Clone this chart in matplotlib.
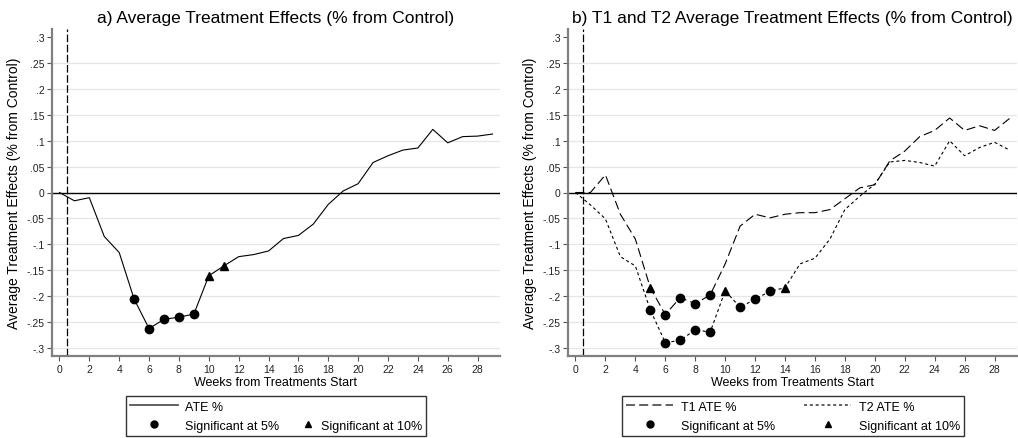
import matplotlib
matplotlib.use("Agg")
import matplotlib.pyplot as plt
from matplotlib.lines import Line2D
from matplotlib.legend_handler import HandlerLine2D
import numpy as np

plt.rcParams['font.family'] = ['Liberation Sans', 'DejaVu Sans']
plt.rcParams['lines.scale_dashes'] = False

# data
weeks = list(range(0, 30))
ate = [0.0, -0.016, -0.010, -0.085, -0.116, -0.206, -0.263, -0.245, -0.241, -0.235,
       -0.161, -0.142, -0.124, -0.120, -0.113, -0.089, -0.083, -0.061, -0.023, 0.003,
       0.017, 0.058, 0.071, 0.082, 0.086, 0.122, 0.096, 0.108, 0.109, 0.113]
ate_sig5 = [5, 6, 7, 8, 9]
ate_sig10 = [10, 11]

t1_ate = [0.0, 0.0, 0.034, -0.042, -0.090, -0.184, -0.236, -0.203, -0.215, -0.198,
          -0.138, -0.065, -0.042, -0.049, -0.042, -0.039, -0.039, -0.033, -0.012, 0.009,
          0.015, 0.061, 0.080, 0.108, 0.120, 0.144, 0.120, 0.129, 0.120, 0.143]
t2_ate = [0.0, -0.024, -0.051, -0.124, -0.142, -0.227, -0.290, -0.286, -0.265, -0.270,
          -0.190, -0.222, -0.206, -0.191, -0.184, -0.138, -0.127, -0.090, -0.033, -0.007,
          0.016, 0.059, 0.062, 0.058, 0.051, 0.100, 0.071, 0.087, 0.097, 0.082]
t1_sig5 = [6, 7, 8, 9]
t1_sig10 = [5]
t2_sig5 = [5, 6, 7, 8, 9, 11, 12, 13]
t2_sig10 = [10, 14]

yticks = [0.3, 0.25, 0.2, 0.15, 0.1, 0.05, 0.0, -0.05, -0.1, -0.15, -0.2, -0.25, -0.3]
xticks = list(range(0, 29, 2))

LONG = (0, (6.5, 3.0))
SHORT = (0, (2.2, 2.0))
VDASH = (0, (5.5, 1.8))
MS_C = 6
MS_T = 5.5


def ytxt(v):
    if v == 0:
        return "0"
    s = ("%.2f" % v).rstrip("0")
    return s.replace("0.", ".")


class MarkerAtRight(HandlerLine2D):
    # marker-only key sits at the right end of the key box (narrow key column)
    def get_xdata(self, legend, xdescent, ydescent, width, height, fontsize):
        xm = -xdescent + width - 3.5
        return [xm - 0.1, xm + 0.1], [xm]


def style_axes(ax):
    ax.set_xlim(-0.5, 29.5)
    ax.set_ylim(-0.316, 0.316)
    ax.set_yticks(yticks)
    ax.set_yticklabels([ytxt(v) for v in yticks])
    ax.set_xticks(xticks)
    for v in yticks:
        if v not in (0.0, 0.3):
            ax.axhline(v, color='#e6e6e6', lw=0.9, zorder=0)
    ax.axhline(0, color='black', lw=1.0, zorder=1)
    ax.axvline(0.5, color='black', lw=0.9, linestyle=VDASH, zorder=1)
    for s in ['top', 'right']:
        ax.spines[s].set_visible(False)
    for s in ['left', 'bottom']:
        ax.spines[s].set_color('#808080')
        ax.spines[s].set_linewidth(1.6)
    ax.tick_params(axis='both', labelsize=7.5, length=3.5, width=0.8,
                   color='#555555', labelcolor='#222222', pad=2)
    ax.set_xlabel("Weeks from Treatments Start", fontsize=9, labelpad=1.5)
    ax.set_ylabel("Average Treatment Effects (% from Control)", fontsize=10, labelpad=4)


fig = plt.figure(figsize=(10.18, 4.39), dpi=100)
ax1 = fig.add_axes([52 / 1018, 82 / 439, 448 / 1018, 327 / 439])
ax2 = fig.add_axes([568 / 1018, 82 / 439, 449 / 1018, 327 / 439])

# panel a
style_axes(ax1)
ax1.plot(weeks, ate, color='black', lw=0.8, zorder=3)
ax1.plot(ate_sig5, [ate[w] for w in ate_sig5], 'o', color='black', ms=MS_C, zorder=4)
ax1.plot(ate_sig10, [ate[w] for w in ate_sig10], '^', color='black', ms=MS_T, zorder=4)
ax1.set_title("a) Average Treatment Effects (% from Control)", fontsize=12.5, pad=5)

# panel b
style_axes(ax2)
ax2.plot(weeks, t1_ate, color='black', lw=0.8, linestyle=LONG, zorder=3)
ax2.plot(weeks, t2_ate, color='black', lw=0.8, linestyle=SHORT, zorder=3)
ax2.plot(t1_sig5, [t1_ate[w] for w in t1_sig5], 'o', color='black', ms=MS_C, zorder=4)
ax2.plot(t1_sig10, [t1_ate[w] for w in t1_sig10], '^', color='black', ms=MS_T, zorder=4)
ax2.plot(t2_sig5, [t2_ate[w] for w in t2_sig5], 'o', color='black', ms=MS_C, zorder=4)
ax2.plot(t2_sig10, [t2_ate[w] for w in t2_sig10], '^', color='black', ms=MS_T, zorder=4)
ax2.set_title("b) T1 and T2 Average Treatment Effects (% from Control)", fontsize=12.5, pad=5)

# legends
circ = Line2D([], [], marker='o', color='black', ls='none', ms=5)
tri = Line2D([], [], marker='^', color='black', ls='none', ms=4.5)
tri_r = Line2D([], [], marker='^', color='black', ls='none', ms=4.5)
blank = Line2D([], [], ls='none')
solid = Line2D([], [], color='#555555', lw=1.3)
long_h = Line2D([], [], color='#555555', lw=1.3, linestyle=LONG)
short_h = Line2D([], [], color='#555555', lw=1.3, linestyle=SHORT)

leg_kw = dict(loc='lower center', fontsize=9, frameon=True, fancybox=False,
              edgecolor='black', handlelength=3.8, handletextpad=0.6,
              labelspacing=0.55, borderpad=0.35, borderaxespad=0, ncol=2)

leg1 = fig.legend([solid, circ, blank, tri_r],
                  ["ATE %", "Significant at 5%", "", "Significant at 10%"],
                  bbox_to_anchor=(276 / 1018, 2 / 439), columnspacing=-1.1,
                  handler_map={tri_r: MarkerAtRight()}, **leg_kw)
leg2 = fig.legend([long_h, circ, short_h, tri],
                  ["T1 ATE %", "Significant at 5%", "T2 ATE %", "Significant at 10%"],
                  bbox_to_anchor=(793 / 1018, 2 / 439), columnspacing=2.3, **leg_kw)
for lg in (leg1, leg2):
    lg.get_frame().set_linewidth(1.0)

fig.savefig("out.png", dpi=100)
